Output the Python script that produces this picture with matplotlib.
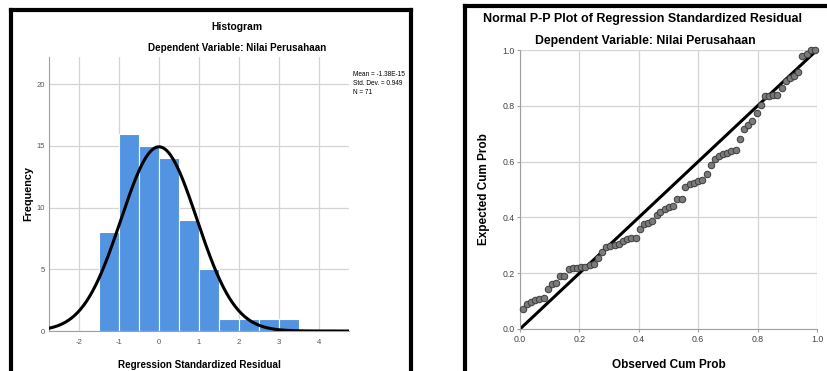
import matplotlib
matplotlib.use('Agg')
import matplotlib.pyplot as plt
from matplotlib.lines import Line2D
import numpy as np

plt.rcParams['font.family'] = ['Liberation Sans', 'DejaVu Sans']
plt.rcParams['axes.unicode_minus'] = False

# Histogram data (bin width 0.5)
bin_left = [-1.5, -1.0, -0.5, 0.0, 0.5, 1.0, 1.5, 2.0, 2.5, 3.0]
freq = [8, 16, 15, 14, 9, 5, 1, 1, 1, 1]
bin_width = 0.5
res_mean = -1.38e-15
res_sd = 0.949
n_obs = 71
hist_xticks = [-2, -1, 0, 1, 2, 3, 4]
hist_yticks = [0, 5, 10, 15, 20]

# P-P plot data
observed = [0.009, 0.022, 0.037, 0.052, 0.065, 0.080, 0.094, 0.108, 0.121, 0.136,
            0.149, 0.164, 0.179, 0.192, 0.207, 0.220, 0.235, 0.248, 0.263, 0.276,
            0.291, 0.304, 0.319, 0.333, 0.347, 0.361, 0.375, 0.389, 0.403, 0.417,
            0.431, 0.445, 0.460, 0.473, 0.488, 0.501, 0.516, 0.529, 0.544, 0.557,
            0.572, 0.585, 0.600, 0.613, 0.628, 0.642, 0.656, 0.670, 0.684, 0.698,
            0.712, 0.726, 0.740, 0.754, 0.768, 0.782, 0.797, 0.810, 0.825, 0.838,
            0.853, 0.866, 0.881, 0.894, 0.909, 0.922, 0.937, 0.951, 0.965, 0.979,
            0.993]
expected = [0.073, 0.091, 0.098, 0.103, 0.107, 0.110, 0.144, 0.163, 0.165, 0.190,
            0.190, 0.214, 0.217, 0.217, 0.222, 0.223, 0.228, 0.233, 0.254, 0.276,
            0.295, 0.297, 0.300, 0.304, 0.316, 0.323, 0.325, 0.326, 0.360, 0.375,
            0.381, 0.388, 0.409, 0.421, 0.430, 0.438, 0.442, 0.465, 0.467, 0.508,
            0.519, 0.523, 0.531, 0.533, 0.556, 0.589, 0.609, 0.621, 0.626, 0.630,
            0.637, 0.640, 0.680, 0.718, 0.732, 0.746, 0.773, 0.804, 0.834, 0.835,
            0.837, 0.837, 0.863, 0.888, 0.899, 0.906, 0.920, 0.978, 0.986, 1.0,
            1.0]
pp_ticks = [0.0, 0.2, 0.4, 0.6, 0.8, 1.0]

W, H = 828, 371
fig = plt.figure(figsize=(W / 100, H / 100), dpi=100)

def px_axes(left, top, right, bottom):
    return fig.add_axes([left / W, (H - bottom) / H, (right - left) / W, (bottom - top) / H])

def px_line(x0, y0, x1, y1):
    fig.add_artist(Line2D([x0 / W, x1 / W], [(H - y0) / H, (H - y1) / H],
                          transform=fig.transFigure, color='black', lw=3.0,
                          solid_capstyle='projecting'))

grid_c = '#d4d4d4'
spine_c = '#a0a0a0'

# ---------------- Histogram ----------------
ax = px_axes(49, 57, 349, 331)
ax.bar(bin_left, freq, width=bin_width, align='edge', color='#5294e2',
       edgecolor='white', linewidth=0.8, zorder=2)
xs = np.linspace(-2.75, 4.75, 400)
curve = n_obs * bin_width * np.exp(-0.5 * ((xs - res_mean) / res_sd) ** 2) / (res_sd * np.sqrt(2 * np.pi))
ax.plot(xs, curve, color='black', lw=2.2, zorder=3)
ax.set_xlim(-2.75, 4.75)
ax.set_ylim(0, 22.2)
ax.set_xticks(hist_xticks)
ax.set_yticks(hist_yticks)
ax.grid(True, color=grid_c, lw=0.9, zorder=0)
ax.set_axisbelow(True)
for s in ['top', 'right']:
    ax.spines[s].set_visible(False)
ax.spines['left'].set_color(spine_c)
ax.spines['bottom'].set_color(spine_c)
ax.tick_params(axis='x', length=0, labelsize=5.5, labelcolor='#555555', pad=6)
ax.tick_params(axis='y', length=0, labelsize=5.5, labelcolor='#555555', pad=3)
ax.set_ylabel('Frequency', fontsize=7.8, fontweight='bold', labelpad=2)
ax.set_xlabel('Regression Standardized Residual', fontsize=7.1, fontweight='bold',
              labelpad=10)
fig.text(237 / W, 1 - 27 / H, 'Histogram', ha='center', va='center', fontsize=7.4,
         fontweight='bold')
fig.text(237 / W, 1 - 48 / H, 'Dependent Variable: Nilai Perusahaan', ha='center',
         va='center', fontsize=7.1, fontweight='bold')
fig.text(353 / W, 1 - 71 / H,
         'Mean = -1.38E-15\nStd. Dev. = 0.949\nN = %d' % n_obs,
         ha='left', va='top', fontsize=4.7, linespacing=1.45)

# ---------------- P-P plot ----------------
ax2 = px_axes(520, 50, 817, 329)
ax2.plot([0, 1], [0, 1], color='black', lw=2.2, zorder=2)
ax2.scatter(observed, expected, s=22, facecolor='#7a7a7a', edgecolor='#3c3c3c',
            linewidth=0.7, zorder=3, clip_on=False)
ax2.set_xlim(0, 1)
ax2.set_ylim(0, 1)
ax2.set_xticks(pp_ticks)
ax2.set_yticks(pp_ticks)
ax2.set_xticklabels(['%.1f' % t for t in pp_ticks])
ax2.set_yticklabels(['%.1f' % t for t in pp_ticks])
ax2.grid(True, color=grid_c, lw=0.9, zorder=0)
ax2.set_axisbelow(True)
for s in ['top', 'right']:
    ax2.spines[s].set_visible(False)
ax2.spines['left'].set_color(spine_c)
ax2.spines['bottom'].set_color(spine_c)
ax2.tick_params(length=2, color=spine_c, labelsize=6.3, labelcolor='#444444', pad=2)
ax2.set_ylabel('Expected Cum Prob', fontsize=8.5, fontweight='bold', labelpad=9)
ax2.set_xlabel('Observed Cum Prob', fontsize=8.5, fontweight='bold', labelpad=11)
fig.text(643 / W, 1 - 19 / H, 'Normal P-P Plot of Regression Standardized Residual',
         ha='center', va='center', fontsize=9.0, fontweight='bold')
fig.text(645 / W, 1 - 41 / H, 'Dependent Variable: Nilai Perusahaan',
         ha='center', va='center', fontsize=8.8, fontweight='bold')

# panel frames
px_line(11, 10, 411.5, 10)
px_line(11, 10, 11, 375)
px_line(411.5, 10, 411.5, 375)
px_line(464.5, 6, 830, 6)
px_line(464.5, 6, 464.5, 375)

fig.savefig('out.png', dpi=100)
